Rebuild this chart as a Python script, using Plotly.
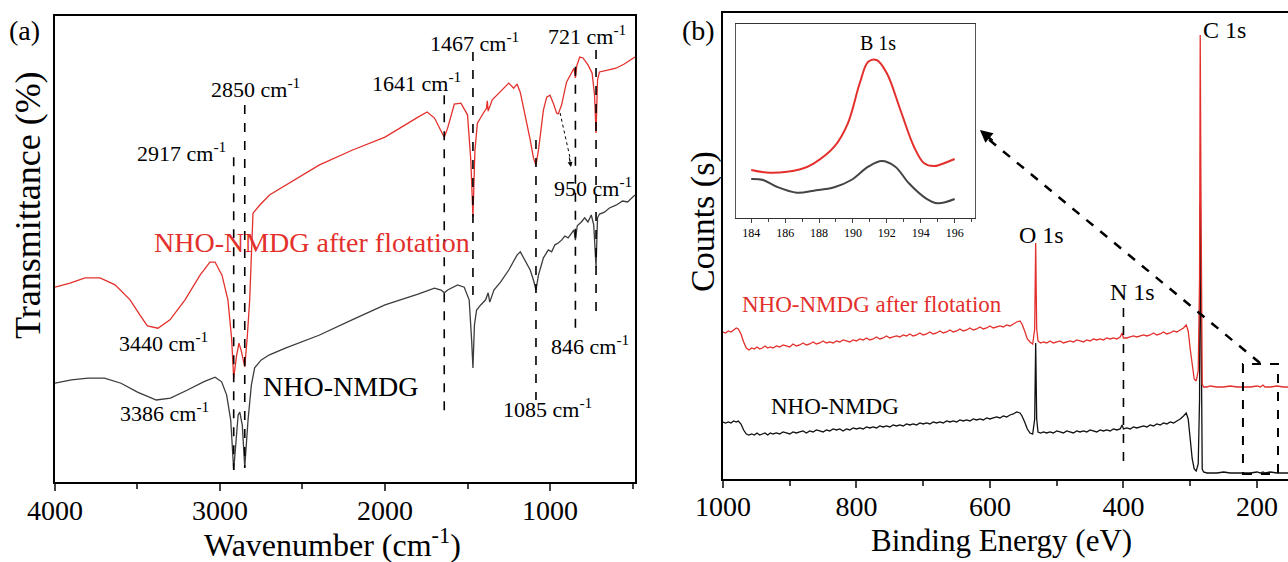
import plotly.graph_objects as go

# ---------------- Panel (a): FTIR ----------------
ftir_red_wn = [4000, 3909, 3818, 3727, 3636, 3545, 3485, 3440, 3376, 3303, 3212, 3121, 3061, 3030, 2988, 2952,
               2930, 2917, 2900, 2885, 2870, 2850, 2835, 2820, 2800, 2760, 2700, 2600, 2400, 2200, 2000, 1800,
               1745, 1700, 1660, 1641, 1620, 1580, 1540, 1500, 1480, 1467, 1455, 1440, 1400, 1385, 1380, 1375,
               1350, 1300, 1250, 1220, 1200, 1180, 1150, 1120, 1100, 1085, 1070, 1040, 1020, 1000, 980, 960,
               950, 930, 900, 870, 855, 846, 838, 820, 800, 770, 745, 730, 721, 712, 700, 650, 600, 550, 500, 485]
ftir_red_t = [41.8, 42.7, 43.8, 43.8, 42.3, 39.1, 35.8, 33.5, 33.0, 34.8, 39.1, 44.4, 47.2, 47.2, 44.4, 39.1,
              31.0, 22.3, 27.0, 29.8, 28.0, 24.7, 31.0, 39.1, 57.7, 59.4, 61.6, 63.7, 68.0, 71.2, 74.0, 78.3,
              79.4, 78.1, 75.5, 74.0, 76.0, 81.1, 81.3, 78.8, 69.1, 56.9, 71.2, 77.0, 79.4, 80.2, 81.8, 79.6,
              82.0, 83.7, 85.6, 84.5, 85.4, 83.6, 78.8, 73.4, 69.5, 68.0, 71.2, 79.8, 82.6, 83.0, 81.3, 79.2,
              79.0, 80.9, 85.8, 88.0, 88.8, 86.7, 89.3, 91.2, 91.0, 89.5, 87.8, 83.0, 74.9, 86.3, 88.0, 88.4,
              88.8, 89.7, 91.0, 91.2]

ftir_blk_wn = [4000, 3900, 3800, 3700, 3600, 3500, 3386, 3300, 3200, 3100, 3030, 2990, 2960, 2935, 2917, 2890,
               2880, 2865, 2850, 2830, 2810, 2790, 2750, 2700, 2600, 2400, 2200, 2000, 1800, 1700, 1660, 1641,
               1620, 1560, 1520, 1490, 1475, 1467, 1458, 1445, 1420, 1390, 1375, 1365, 1340, 1300, 1250, 1200,
               1180, 1160, 1140, 1120, 1100, 1085, 1070, 1040, 1010, 990, 970, 950, 930, 910, 890, 870,
               855, 846, 835, 810, 790, 770, 750, 735, 721, 712, 700, 670, 640, 600, 560, 530, 500, 485]
ftir_blk_t = [21.2, 21.9, 22.3, 22.3, 21.2, 19.3, 17.6, 18.0, 19.7, 21.5, 22.5, 21.5, 18.7, 13.3, 2.6, 14.4,
              15.0, 12.2, 3.2, 13.3, 20.8, 24.5, 26.2, 27.3, 28.8, 31.5, 34.8, 38.0, 40.3, 41.6, 41.2, 40.6,
              41.2, 42.3, 41.8, 39.1, 30.5, 24.5, 33.7, 36.9, 38.0, 39.1, 40.6, 38.6, 41.2, 42.9, 45.5, 48.7,
              49.4, 48.1, 46.6, 45.5, 43.3, 41.2, 44.4, 48.1, 49.8, 49.4, 50.9, 51.3, 51.9, 52.8, 52.4, 53.4,
              54.1, 51.9, 55.0, 55.8, 56.7, 55.8, 57.3, 55.2, 46.1, 56.7, 57.5, 57.9, 58.8, 59.4, 60.3, 60.1,
              61.2, 61.6]

ftir_peaks = [2917, 2850, 1641, 1467, 1085, 846, 721]
ftir_peak_top = [69.7, 80.9, 83.0, 92.3, 73.4, 89.1, 92.7]
ftir_peak_bottom = [2.6, 3.0, 15.0, 39.1, 17.6, 32.0, 36.5]

ftir_labels = ["2917 cm<sup>-1</sup>", "2850 cm<sup>-1</sup>", "3440 cm<sup>-1</sup>", "3386 cm<sup>-1</sup>",
               "1641 cm<sup>-1</sup>", "1467 cm<sup>-1</sup>", "721 cm<sup>-1</sup>", "950 cm<sup>-1</sup>",
               "846 cm<sup>-1</sup>", "1085 cm<sup>-1</sup>"]
ftir_label_x = [3233, 2782, 3342, 3336, 1809, 1458, 773, 742, 755, 1015]
ftir_label_y = [70.8, 84.5, 30.0, 15.0, 85.8, 94.4, 95.9, 63.3, 29.4, 15.9]

# ---------------- Panel (b): XPS survey ----------------
xps_red_ev = [1000, 996, 992, 988, 984, 980, 977, 973, 969, 965, 961, 957, 953, 949, 945, 941, 937, 933, 929, 925,
              920, 915, 910, 905, 900, 895, 890, 885, 880, 875, 870, 865, 860, 855, 850, 845, 840, 835, 830, 825,
              820, 815, 810, 805, 800, 795, 790, 785, 780, 775, 770, 765, 760, 755, 750, 745, 740, 735, 730, 725,
              720, 715, 710, 705, 700, 695, 690, 685, 680, 675, 670, 665, 660, 655, 650, 645, 640, 635, 630, 625,
              620, 615, 610, 605, 600, 595, 590, 585, 580, 575, 570, 565, 560, 555, 552, 548, 544, 540, 536, 533,
              531.5, 530, 528, 524, 520, 515, 510, 505, 500, 495, 490, 485, 480, 475, 470, 465, 460, 455, 450, 445,
              440, 435, 430, 425, 420, 415, 410, 405, 402, 400, 395, 390, 385, 380, 375, 370, 365, 360, 355, 350,
              345, 340, 335, 330, 325, 320, 315, 310, 306, 303, 300, 297, 294, 291, 288, 286, 285, 284, 283, 282,
              280, 275, 270, 260, 250, 240, 230, 220, 210, 200, 195, 191, 188, 180, 170, 160, 153]
xps_red_cnt = [147, 146, 148, 147, 149, 151, 150, 145, 137, 131, 129, 131, 130, 132, 130, 131, 133, 131, 132, 131,
               133, 132, 134, 133, 132, 135, 133, 134, 136, 134, 135, 137, 135, 136, 138, 136, 137, 136, 138, 137,
               139, 138, 137, 139, 138, 140, 139, 141, 139, 140, 142, 140, 141, 143, 141, 142, 143, 142, 144, 143,
               145, 143, 144, 146, 144, 145, 147, 145, 146, 148, 146, 147, 149, 147, 148, 150, 148, 149, 151, 149,
               150, 152, 150, 151, 153, 151, 152, 153, 152, 154, 153, 155, 157, 158, 155, 148, 140, 137, 135, 150,
               236, 150, 138, 136, 137, 136, 138, 136, 137, 138, 136, 137, 138, 137, 139, 138, 137, 139, 138, 140,
               139, 140, 139, 141, 140, 141, 140, 142, 146, 141, 141, 142, 143, 142, 143, 144, 143, 144, 146, 144,
               145, 147, 145, 146, 148, 147, 149, 151, 154, 148, 130, 112, 100, 98, 108, 200, 444, 300, 130, 95,
               92, 92, 93, 92, 92, 93, 92, 92, 92, 93, 92, 94, 92, 92, 93, 92, 92]

xps_blk_ev = [1000, 996, 992, 988, 984, 980, 977, 973, 969, 965, 961, 957, 953, 949, 945, 941, 937, 933, 929, 925,
              920, 915, 910, 905, 900, 895, 890, 885, 880, 875, 870, 865, 860, 855, 850, 845, 840, 835, 830, 825,
              820, 815, 810, 805, 800, 795, 790, 785, 780, 775, 770, 765, 760, 755, 750, 745, 740, 735, 730, 725,
              720, 715, 710, 705, 700, 695, 690, 685, 680, 675, 670, 665, 660, 655, 650, 645, 640, 635, 630, 625,
              620, 615, 610, 605, 600, 595, 590, 585, 580, 575, 570, 565, 560, 555, 552, 548, 544, 540, 536, 533,
              531.5, 530, 528, 524, 520, 515, 510, 505, 500, 495, 490, 485, 480, 475, 470, 465, 460, 455, 450, 445,
              440, 435, 430, 425, 420, 415, 410, 405, 402, 400, 395, 390, 385, 380, 375, 370, 365, 360, 355, 350,
              345, 340, 335, 330, 325, 320, 315, 310, 306, 303, 300, 297, 294, 291, 288, 286, 285, 284, 283, 282,
              280, 275, 270, 260, 250, 240, 230, 220, 210, 200, 195, 191, 188, 180, 170, 160, 153]
xps_blk_cnt = [57, 56, 57, 56, 58, 57, 58, 55, 49, 45, 44, 45, 44, 46, 44, 45, 46, 44, 46, 45,
               46, 45, 47, 46, 45, 47, 46, 47, 48, 46, 48, 47, 49, 48, 47, 49, 48, 50, 49, 50,
               48, 50, 49, 51, 50, 51, 50, 52, 51, 52, 51, 53, 52, 53, 52, 54, 53, 54, 53, 55,
               54, 55, 54, 56, 55, 56, 55, 57, 56, 57, 56, 58, 57, 58, 57, 59, 58, 59, 58, 60,
               59, 60, 59, 61, 60, 61, 62, 61, 63, 62, 64, 65, 67, 66, 63, 57, 50, 46, 45, 60,
               136, 60, 47, 46, 47, 46, 47, 46, 48, 47, 46, 48, 47, 46, 48, 47, 48, 47, 49, 48,
               47, 49, 48, 49, 48, 50, 49, 50, 54, 50, 51, 50, 52, 51, 52, 53, 52, 54, 53, 55,
               54, 56, 55, 57, 56, 58, 60, 63, 66, 60, 40, 20, 10, 8, 15, 80, 276, 150, 30, 10,
               7, 6, 6, 6, 7, 6, 6, 6, 6, 7, 6, 7, 6, 7, 6, 6, 6]

xps_labels = ["O 1s", "N 1s", "C 1s"]
xps_label_x = [523, 387, 249]
xps_label_y = [244, 187, 449]

# ---------------- Inset: B 1s ----------------
b1s_red_ev = [184.0, 185.1, 186.9, 187.7, 188.9, 189.7, 190.4, 190.9, 191.4, 192.0, 192.8, 193.6, 194.2, 194.8, 195.6, 196.0]
b1s_red_cnt = [48, 45.3, 48.7, 54.7, 71.3, 94.7, 134.7, 156.3, 158, 144.7, 108, 71.3, 54.7, 52, 56.3, 59]
b1s_blk_ev = [184.0, 184.7, 185.5, 186.7, 187.7, 188.9, 189.9, 190.9, 191.7, 192.5, 193.3, 194.3, 195.0, 196.0]
b1s_blk_cnt = [39, 38, 31.3, 25.3, 27.3, 30.7, 38, 51.3, 57, 51.3, 34.7, 19.7, 14.7, 19]

RED = "#e3302c"
FTIR_BLK = "#3c3c3c"
FONT = "Liberation Serif"

fig = go.Figure()

# FTIR curves
fig.add_trace(go.Scatter(x=ftir_blk_wn, y=ftir_blk_t, mode="lines", line=dict(color=FTIR_BLK, width=1.3),
                         xaxis="x", yaxis="y", showlegend=False))
fig.add_trace(go.Scatter(x=ftir_red_wn, y=ftir_red_t, mode="lines", line=dict(color=RED, width=1.3),
                         xaxis="x", yaxis="y", showlegend=False))
for p, t, b in zip(ftir_peaks, ftir_peak_top, ftir_peak_bottom):
    fig.add_trace(go.Scatter(x=[p, p], y=[t, b], mode="lines", line=dict(color="black", width=1.6, dash="dash"),
                             xaxis="x", yaxis="y", showlegend=False))

# XPS curves
fig.add_trace(go.Scatter(x=xps_blk_ev, y=xps_blk_cnt, mode="lines", line=dict(color="#111111", width=1.3),
                         xaxis="x2", yaxis="y2", showlegend=False))
fig.add_trace(go.Scatter(x=xps_red_ev, y=xps_red_cnt, mode="lines", line=dict(color=RED, width=1.3),
                         xaxis="x2", yaxis="y2", showlegend=False))
fig.add_trace(go.Scatter(x=[400, 400], y=[171, 17], mode="lines", line=dict(color="black", width=1.6, dash="dash"),
                         xaxis="x2", yaxis="y2", showlegend=False))

# Inset curves
fig.add_trace(go.Scatter(x=b1s_red_ev, y=b1s_red_cnt, mode="lines", line=dict(color=RED, width=2, shape="spline"),
                         xaxis="x3", yaxis="y3", showlegend=False))
fig.add_trace(go.Scatter(x=b1s_blk_ev, y=b1s_blk_cnt, mode="lines", line=dict(color="#444444", width=2, shape="spline"),
                         xaxis="x3", yaxis="y3", showlegend=False))

axis_common = dict(showgrid=False, zeroline=False, showline=True, linecolor="black", linewidth=2, automargin=False)

fig.update_layout(
    template="none",
    width=1288, height=562,
    margin=dict(l=0, r=0, t=0, b=0, autoexpand=False),
    paper_bgcolor="white", plot_bgcolor="white",
    font=dict(family=FONT, color="black"),
    showlegend=False,
    xaxis=dict(axis_common, domain=[0.0427, 0.493], range=[4000, 485], mirror=True, anchor="y",
               ticks="outside", ticklen=7, tickwidth=2, tickvals=[4000, 3000, 2000, 1000],
               ticklabelstandoff=-5,
               tickfont=dict(size=28, family=FONT, color="black"),
               minor=dict(tickvals=[3500, 2500, 1500, 500], ticks="outside", ticklen=5, tickwidth=2)),
    yaxis=dict(axis_common, domain=[0.1423, 0.9715], range=[0, 100], mirror=True, anchor="x",
               ticks="", showticklabels=False),
    xaxis2=dict(axis_common, domain=[0.5613, 1.0], range=[1000, 153.5], mirror=True, anchor="y2",
                ticks="outside", ticklen=7, tickwidth=2, tickvals=[1000, 800, 600, 400, 200],
                ticklabelstandoff=-6,
                tickfont=dict(size=28, family=FONT, color="black"),
                minor=dict(tickvals=[900, 700, 500, 300], ticks="outside", ticklen=5, tickwidth=2)),
    yaxis2=dict(axis_common, domain=[0.1477, 0.9769], range=[0, 466], mirror=False, anchor="x2",
                ticks="", showticklabels=False),
    xaxis3=dict(showgrid=False, zeroline=False, showline=True, linecolor="#333333", linewidth=1, mirror=True,
                automargin=False, domain=[0.5714, 0.757], range=[183.1, 197.2], anchor="y3",
                ticks="outside", ticklen=4, tickwidth=1, tickvals=[184, 186, 188, 190, 192, 194, 196],
                tickfont=dict(size=12, family=FONT, color="black"),
                minor=dict(tickvals=[183, 185, 187, 189, 191, 193, 195, 197], ticks="outside", ticklen=3, tickwidth=1)),
    yaxis3=dict(showgrid=False, zeroline=False, showline=True, linecolor="#555555", linewidth=1, mirror=True,
                automargin=False, domain=[0.6121, 0.9573], range=[0, 194], anchor="x3", ticks="",
                showticklabels=False),
)

ann = []
C = dict(xanchor="center", yanchor="middle", showarrow=False)
# FTIR peak labels
for txt, x, y in zip(ftir_labels, ftir_label_x, ftir_label_y):
    ann.append(dict(C, x=x, y=y, xref="x", yref="y", text=txt, font=dict(size=22, family=FONT, color="black")))
ann.append(dict(C, x=2442, y=51.3, xref="x", yref="y", text="NHO-NMDG after flotation",
                font=dict(size=28, family=FONT, color=RED)))
ann.append(dict(C, x=2264, y=20.4, xref="x", yref="y", text="NHO-NMDG",
                font=dict(size=28, family=FONT, color="black")))
# small arrow to 950 cm-1
ann.append(dict(x=873, y=67.6, xref="x", yref="y", ax=-2, ay=-11, text="",
                showarrow=True, arrowhead=2, arrowsize=1, arrowwidth=1, arrowcolor="black"))

# XPS labels
for txt, x, y in zip(xps_labels, xps_label_x, xps_label_y):
    ann.append(dict(C, x=x, y=y, xref="x2", yref="y2", text=txt, font=dict(size=24, family=FONT, color="black")))
ann.append(dict(C, x=776, y=174, xref="x2", yref="y2", text="NHO-NMDG after flotation",
                font=dict(size=23, family=FONT, color=RED)))
ann.append(dict(C, x=832, y=72, xref="x2", yref="y2", text="NHO-NMDG",
                font=dict(size=23, family=FONT, color="black")))
# big arrow head
ann.append(dict(x=615, y=349, xref="x2", yref="y2", ax=14, ay=12, text="",
                showarrow=True, arrowhead=2, arrowsize=1, arrowwidth=2.5, arrowcolor="black"))
# inset label
ann.append(dict(C, x=191.5, y=175, xref="x3", yref="y3", text="B 1s",
                font=dict(size=20, family=FONT, color="black")))

# axis titles and panel labels
ann.append(dict(C, x=332 / 1288, y=1 - 543 / 562, xref="paper", yref="paper", text="Wavenumber (cm<sup>-1</sup>)",
                font=dict(size=32, family=FONT, color="black")))
ann.append(dict(C, x=1001 / 1288, y=1 - 540 / 562, xref="paper", yref="paper", text="Binding Energy (eV)",
                font=dict(size=31, family=FONT, color="black")))
ann.append(dict(C, x=28 / 1288, y=1 - 205 / 562, xref="paper", yref="paper", text="Transmittance (%)", textangle=-90,
                font=dict(size=36, family=FONT, color="black")))
ann.append(dict(C, x=703 / 1288, y=1 - 222 / 562, xref="paper", yref="paper", text="Counts (s)", textangle=-90,
                font=dict(size=34, family=FONT, color="black")))
ann.append(dict(C, x=25 / 1288, y=1 - 30 / 562, xref="paper", yref="paper", text="(a)",
                font=dict(size=28, family=FONT, color="black")))
ann.append(dict(C, x=698 / 1288, y=1 - 30 / 562, xref="paper", yref="paper", text="(b)",
                font=dict(size=28, family=FONT, color="black")))
fig.update_layout(annotations=ann)

shapes = []
# dotted arrow shaft (panel a)
shapes.append(dict(type="line", xref="x", yref="y", x0=939, y0=79.2, x1=875, y1=69,
                   line=dict(color="black", width=1, dash="dot")))
# dashed arrow shaft (panel b)
shapes.append(dict(type="line", xref="x2", yref="y2", x0=195.5, y0=116, x1=608, y1=343,
                   line=dict(color="black", width=2.5, dash="dash")))
# dashed box around B 1s region
shapes.append(dict(type="rect", xref="x2", yref="y2", x0=221, y0=5, x1=168.5, y1=115,
                   line=dict(color="black", width=2, dash="dash")))
fig.update_layout(shapes=shapes)

fig.write_html("out.html")
